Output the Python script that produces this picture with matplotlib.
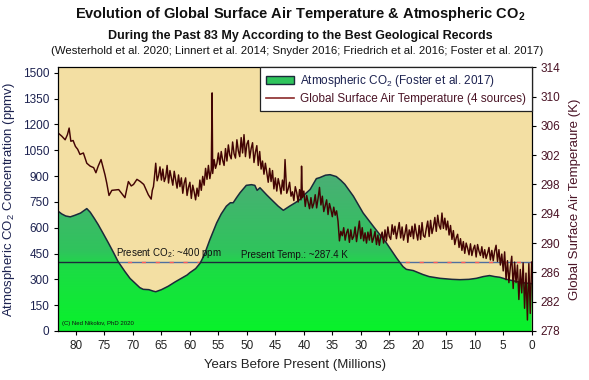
import numpy as np
import matplotlib
matplotlib.use("Agg")
import matplotlib.pyplot as plt
from matplotlib.lines import Line2D
from matplotlib.patches import Patch
from matplotlib.colors import LinearSegmentedColormap

plt.rcParams['font.family'] = ['Liberation Sans', 'DejaVu Sans']
plt.rcParams['mathtext.fontset'] = 'custom'
plt.rcParams['mathtext.rm'] = 'Liberation Sans'
plt.rcParams['mathtext.default'] = 'regular'

# --- CO2 (Foster et al. 2017), ppmv vs age (My) ---
co2_age = [83.1, 82.5, 81.8, 81.0, 80.2, 79.2, 78.1, 77.5, 76.8, 76.1,
           75.2, 74.3, 73.4, 72.6, 71.4, 70.5, 69.6, 68.8, 68.2, 67.2,
           66.5, 66.0, 65.0, 63.8, 62.6, 61.5, 60.5, 60.0, 59.0, 58.2,
           57.5, 56.5, 55.3, 54.5, 53.6, 52.9, 52.4, 51.8, 51.2, 50.1,
           49.2, 48.6, 48.2, 47.7, 46.5, 45.4, 44.5, 43.6, 42.5, 41.5,
           40.7, 39.8, 38.9, 37.8, 37.2, 36.2, 35.4, 34.3, 33.5, 32.8,
           31.3, 29.6, 27.8, 25.5, 23.7, 22.6, 22.0, 20.8, 19.1, 18.0,
           16.1, 14.0, 12.6, 11.0, 9.7, 8.5, 7.4, 6.5, 5.6, 4.4,
           3.0, 1.5, 0.0]
co2_ppm = [695, 680, 668, 663, 672, 685, 711, 690, 655, 618,
           565, 511, 455, 403, 345, 305, 277, 252, 242, 240,
           232, 228, 240, 260, 285, 306, 325, 339, 362, 394,
           440, 530, 628, 680, 725, 745, 745, 775, 803, 846,
           850, 846, 817, 832, 790, 754, 725, 701, 725, 745,
           764, 795, 822, 885, 891, 905, 908, 897, 875, 852,
           783, 686, 608, 511, 423, 374, 358, 351, 328, 316,
           306, 300, 298, 300, 306, 316, 322, 316, 312, 300,
           290, 280, 275]

# --- Global surface air temperature (K) vs age (My) ---
temp_age = [83.1, 82.5, 81.9, 81.5, 81.2, 80.9, 80.5, 80.1, 79.7, 79.3,
            78.7, 78.1, 77.5, 76.9, 76.5, 76.1, 75.6, 74.9, 74.6, 74.2,
            73.7, 72.5, 71.4, 70.8, 70.3, 69.9, 69.3, 68.7, 68.1, 67.3,
            66.8, 66.6, 66.4,
            66.25, 66.0,
            65.75, 65.5, 65.25, 65.0,
            64.75, 64.5, 64.25, 64.0,
            63.75, 63.5, 63.25, 63.0,
            62.75, 62.5, 62.25, 62.0,
            61.75, 61.5, 61.25, 61.0,
            60.75, 60.5, 60.25, 60.0,
            59.75, 59.5, 59.25, 59.0,
            58.75, 58.5, 58.25, 58.0,
            57.75, 57.5, 57.25, 57.0,
            56.75, 56.5, 56.25, 56.1, 56.0,
            55.75, 55.5, 55.25, 55.0,
            54.75, 54.5, 54.25, 54.0,
            53.75, 53.5, 53.25, 53.0,
            52.75, 52.5, 52.25, 52.0,
            51.75, 51.5, 51.25, 51.0,
            50.75, 50.5, 50.25, 50.0,
            49.75, 49.5, 49.25, 49.0,
            48.75, 48.5, 48.25, 48.0,
            47.75, 47.5, 47.25, 47.0,
            46.75, 46.5, 46.25, 46.0,
            45.75, 45.5, 45.25, 45.0,
            44.75, 44.5, 44.25, 44.0,
            43.75, 43.5, 43.3, 43.0,
            42.75, 42.5, 42.25, 42.0,
            41.75, 41.5, 41.25, 41.0,
            40.75, 40.5, 40.4, 40.25, 40.0,
            39.75, 39.5, 39.25, 39.0,
            38.75, 38.5, 38.25, 38.0,
            37.75, 37.5, 37.25, 37.0,
            36.75, 36.5, 36.25, 36.0,
            35.75, 35.5, 35.25, 35.0,
            34.75, 34.5, 34.25, 34.0,
            33.75, 33.5, 33.25, 33.0,
            32.75, 32.5, 32.25, 32.0,
            31.75, 31.5, 31.25, 31.0,
            30.75, 30.5, 30.25, 30.0,
            29.75, 29.5, 29.25, 29.0,
            28.75, 28.5, 28.25, 28.0,
            27.75, 27.5, 27.25, 27.0,
            26.75, 26.5, 26.25, 26.0,
            25.75, 25.5, 25.25, 25.0,
            24.75, 24.5, 24.25, 24.0,
            23.75, 23.5, 23.25, 23.0,
            22.75, 22.5, 22.25, 22.0,
            21.75, 21.5, 21.25, 21.0,
            20.75, 20.5, 20.25, 20.0,
            19.75, 19.5, 19.25, 19.0,
            18.75, 18.5, 18.25, 18.0,
            17.75, 17.5, 17.25, 17.0,
            16.75, 16.5, 16.25, 16.0,
            15.75, 15.5, 15.25, 15.0,
            14.75, 14.5, 14.25, 14.0,
            13.75, 13.5, 13.25, 13.0,
            12.75, 12.5, 12.25, 12.0,
            11.75, 11.5, 11.25, 11.0,
            10.75, 10.5, 10.25, 10.0,
            9.75, 9.5, 9.25, 9.0,
            8.75, 8.5, 8.25, 8.0,
            7.75, 7.5, 7.25, 7.0,
            6.75, 6.5, 6.25, 6.0,
            5.75, 5.5, 5.25, 5.0,
            4.75, 4.5, 4.25, 4.0,
            3.75, 3.5, 3.25, 3.0,
            2.75, 2.5, 2.25, 2.0,
            1.75, 1.5, 1.25, 1.0,
            0.75, 0.5, 0.25, 0.0]
temp_k = [305.0, 304.6, 304.1, 304.8, 305.7, 303.9, 304.0, 303.2, 302.8, 302.1,
          302.3, 300.9, 300.5, 300.3, 299.6, 300.5, 301.4, 299.3, 298.2, 296.5,
          297.2, 297.3, 296.2, 298.4, 297.8, 298.0, 298.7, 298.4, 298.0, 296.6,
          296.0, 297.2, 297.7,
          298.8, 300.9,
          298.5, 299.2, 300.4, 298.6,
          300.1, 298.4, 299.0, 300.6,
          298.2, 299.9, 298.9, 297.9,
          299.8, 298.6, 297.5, 299.3,
          297.7, 298.9, 296.8, 298.2,
          298.9, 296.5, 297.6, 298.3,
          296.1, 297.9, 297.0, 295.9,
          297.5, 296.4, 298.6, 297.2,
          299.1, 297.9, 300.2, 298.7,
          300.6, 298.8, 300.0, 310.5, 299.5,
          301.4, 300.2, 300.9, 302.3,
          300.7, 302.5, 301.3, 300.6,
          302.9, 301.2, 303.4, 302.0,
          301.5, 303.8, 302.2, 301.6,
          304.1, 302.6, 301.8, 304.4,
          302.3, 304.8, 301.8, 303.5,
          304.0, 301.6, 302.9, 303.7,
          301.0, 302.4, 303.3, 300.6,
          302.5, 300.1, 301.2, 299.4,
          300.9, 299.6, 298.3, 300.2,
          298.4, 299.9, 297.4, 298.9,
          297.1, 298.8, 297.9, 296.7,
          298.6, 297.2, 301.4, 296.8,
          297.4, 298.3, 296.4, 297.0,
          295.8, 297.7, 296.9, 295.6,
          297.3, 295.9, 300.5, 296.2, 297.1,
          295.0, 296.5, 295.6, 294.7,
          296.2, 294.8, 295.4, 296.6,
          294.8, 296.1, 297.6, 295.2,
          296.4, 294.3, 295.1, 295.9,
          293.9, 295.4, 294.6, 293.6,
          294.9, 293.8, 294.4, 293.0,
          290.3, 291.6, 291.0, 292.1,
          290.4, 291.4, 291.9, 290.1,
          291.8, 290.5, 290.9, 292.2,
          290.2, 291.6, 293.0, 290.6,
          292.1, 290.3, 291.4, 290.0,
          291.5, 290.4, 291.9, 290.1,
          290.7, 291.6, 289.8, 291.1,
          289.7, 290.9, 291.5, 290.0,
          291.8, 290.3, 292.2, 290.9,
          290.5, 292.5, 291.2, 292.3,
          290.6, 291.7, 292.8, 290.7,
          292.2, 290.4, 291.3, 292.5,
          290.1, 291.8, 290.9, 292.3,
          290.6, 292.6, 291.4, 290.4,
          292.4, 290.5, 292.8, 291.0,
          290.8, 292.0, 293.0, 290.9,
          293.1, 291.3, 292.2, 293.5,
          291.6, 293.8, 292.4, 291.9,
          294.1, 292.0, 293.4, 291.8,
          293.0, 291.1, 292.4, 290.5,
          291.7, 289.8, 290.7, 291.2,
          289.4, 290.6, 289.0, 290.2,
          288.6, 290.0, 289.3, 288.4,
          289.9, 288.3, 289.2, 289.7,
          288.1, 289.8, 288.9, 288.3,
          289.5, 288.0, 289.1, 287.9,
          288.6, 289.4, 287.7, 289.0,
          287.6, 288.9, 289.7, 287.5,
          289.1, 287.0, 288.5, 286.2,
          288.8, 285.0, 287.6, 284.6,
          286.7, 288.2, 283.8, 287.4,
          284.6, 287.0, 282.3, 286.4,
          283.2, 287.3, 281.1, 285.9,
          279.5, 287.2, 280.4, 287.4]

present_co2 = 400
co2_ticks = [0, 150, 300, 450, 600, 750, 900, 1050, 1200, 1350, 1500]
temp_ticks = [278, 282, 286, 290, 294, 298, 302, 306, 310, 314]
age_ticks = [80, 75, 70, 65, 60, 55, 50, 45, 40, 35, 30, 25, 20, 15, 10, 5, 0]

navy = "#1c2250"
maroon = "#4a1426"

fig = plt.figure(figsize=(5.89, 3.80), dpi=100)
ax = fig.add_axes([0.099, 0.129, 0.8037, 0.694])
ax.set_facecolor("#F3DFA3")
ax.set_xlim(83.1, 0)
ax.set_ylim(0, 1532)

# gradient green fill under the CO2 curve
fill = ax.fill_between(co2_age, co2_ppm, 0, facecolor="none", edgecolor="none")
clip = fill.get_paths()[0]
cmap = LinearSegmentedColormap.from_list(
    "co2", [(0, "#08F22A"), (0.4, "#1CDC45"), (0.5, "#2FC45C"), (1, "#4BAE76")])
grad = np.linspace(0, 1, 256).reshape(-1, 1)
img = ax.imshow(grad, extent=(83.1, 0, 0, 920), origin="lower", aspect="auto",
                cmap=cmap, zorder=1)
img.set_clip_path(clip, transform=ax.transData)
ax.set_xlim(83.1, 0)
ax.set_ylim(0, 1532)

# present level line: blue/red dashed over beige, dark over green
ax.axhline(present_co2, color="#4f6f9f", lw=1.0, zorder=0.8)
ax.axhline(present_co2, color="#ff5a5a", lw=1.0, dashes=(3, 7), zorder=0.9)
dark = ax.axhline(present_co2, color="#1d2a3a", lw=1.0, zorder=1.5)
dark.set_clip_path(clip, transform=ax.transData)

ax.plot(co2_age, co2_ppm, color="#1b2a3a", lw=1.1, zorder=2)

ax.text(73.0, 412, "Present CO$_2$: ~400 ppm", fontsize=7, color="#111111",
        va="bottom", zorder=3)
ax.text(51.0, 412, "Present Temp.: ~287.4 K", fontsize=7, color="#111111",
        va="bottom", zorder=3)
ax.text(82.5, 45, "(C) Ned Nikolov, PhD 2020", fontsize=4.3, color="#111111",
        va="center", zorder=3)

ax.set_yticks(co2_ticks)
ax.set_xticks(age_ticks)
ax.tick_params(axis="both", direction="out", length=3, width=0.8,
               labelsize=8.5)
ax.tick_params(axis="y", labelcolor=navy)
ax.tick_params(axis="x", labelcolor="#222222")
ax.set_ylabel("Atmospheric CO$_2$ Concentration (ppmv)", fontsize=9.5,
              color=navy, labelpad=4)
ax.set_xlabel("Years Before Present (Millions)", fontsize=9.5,
              color="#222222", labelpad=5)

ax2 = ax.twinx()
ax2.set_ylim(278, 314)
ax2.set_yticks(temp_ticks)
ax2.plot(temp_age, temp_k, color="#430404", lw=1.05)
ax2.tick_params(axis="y", direction="out", length=3, width=0.8,
                labelsize=8.5, labelcolor=maroon)
ax2.set_ylabel("Global Surface Air Temperaure (K)", fontsize=9.5,
               color=maroon, labelpad=6)

handles = [Patch(facecolor="#2FC45C", edgecolor="#1b2a3a", lw=1.0),
           Line2D([], [], color="#8b2a2a", lw=1.2)]
labels = ["Atmospheric CO$_2$ (Foster et al. 2017)",
          "Global Surface Air Temperature (4 sources)"]
leg = ax2.legend(handles, labels, loc="upper right", borderaxespad=0,
                 fancybox=False, framealpha=1, edgecolor="#222222",
                 fontsize=8.5, handlelength=2.4, handletextpad=0.5,
                 borderpad=0.5, labelspacing=0.35)
leg.get_frame().set_linewidth(0.9)
leg.get_texts()[0].set_color(navy)
leg.get_texts()[1].set_color(maroon)

fig.text(0.51, 0.962, "Evolution of Global Surface Air Temperature & Atmospheric CO$_2$",
         ha="center", va="center", fontsize=10.5, fontweight="bold", color="#111111")
fig.text(0.51, 0.905, "During the Past 83 My According to the Best Geological Records",
         ha="center", va="center", fontsize=9, fontweight="bold", color="#111111")
fig.text(0.505, 0.865, "(Westerhold et al. 2020; Linnert et al. 2014; Snyder 2016; "
         "Friedrich et al. 2016; Foster et al. 2017)",
         ha="center", va="center", fontsize=8.2, color="#111111")

fig.savefig("out.png", dpi=100)
